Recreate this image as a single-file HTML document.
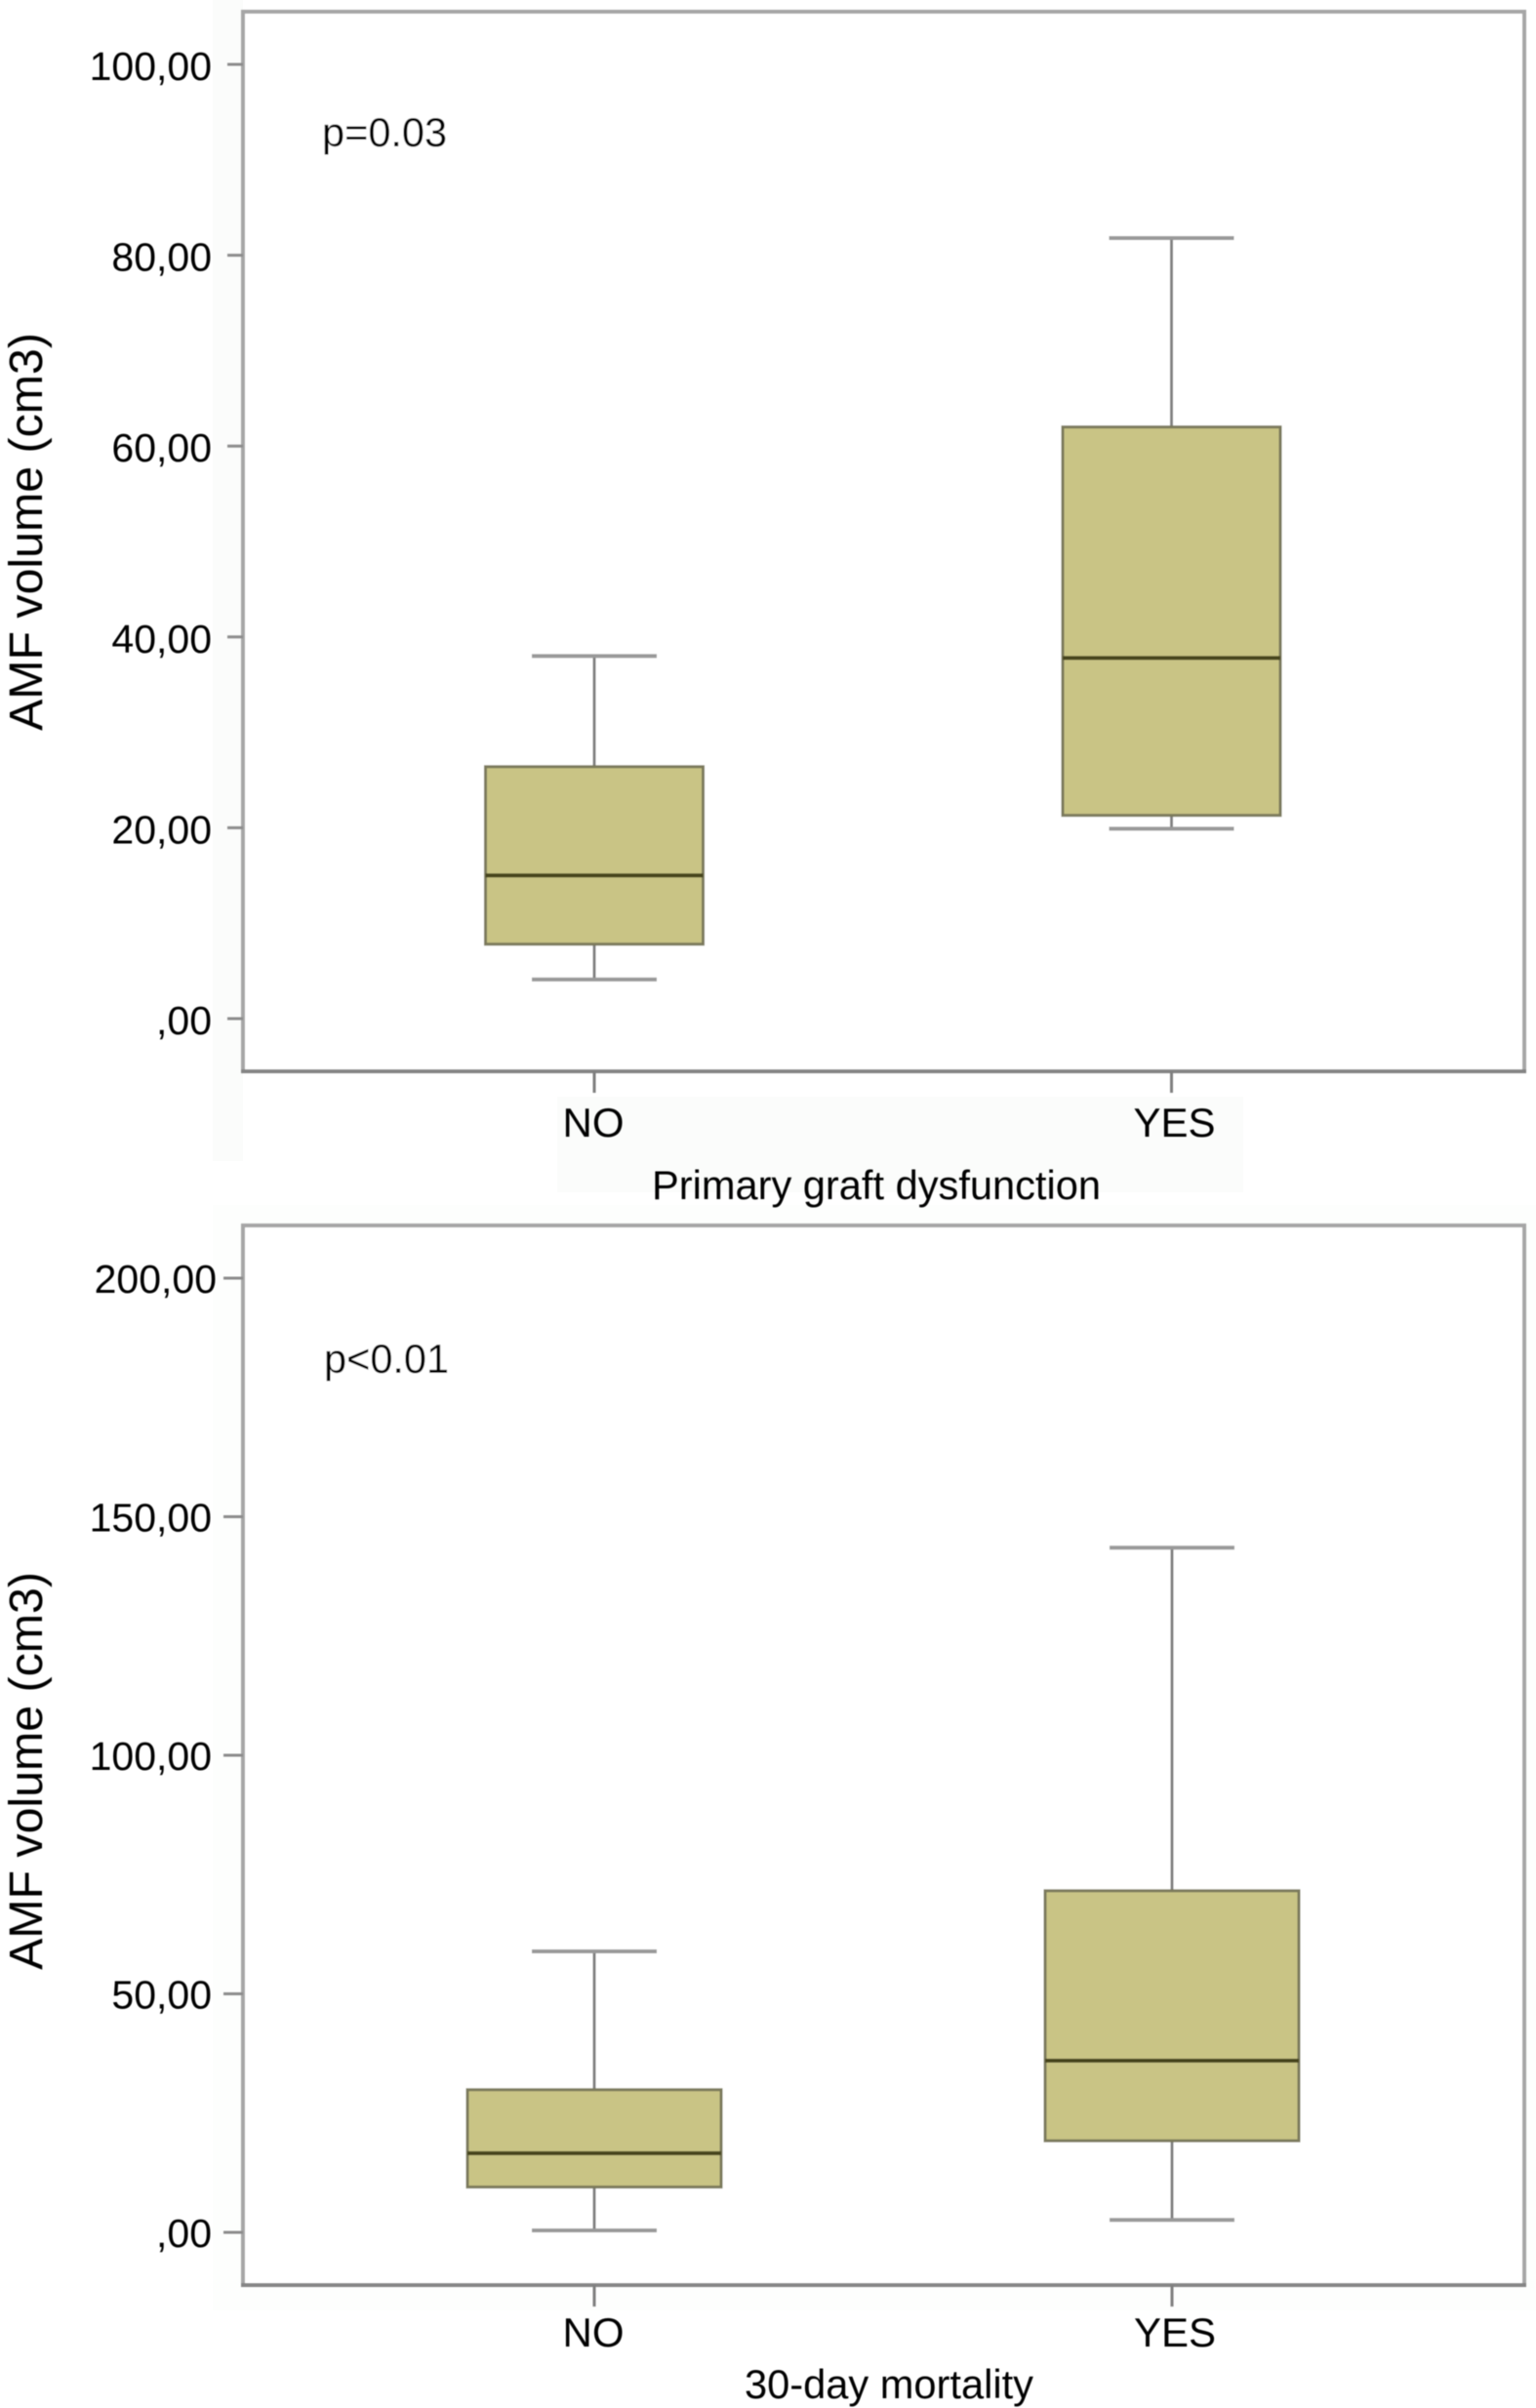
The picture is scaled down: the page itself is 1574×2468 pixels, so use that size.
<!DOCTYPE html>
<html lang="en">
<head>
<meta charset="utf-8">
<title>AMF volume box plots</title>
<style>
html,body{margin:0;padding:0;background:#fff;width:1574px;height:2468px;overflow:hidden}
svg{display:block}
text{font-family:"Liberation Sans",Arial,sans-serif;fill:#050505}
</style>
</head>
<body>
<svg id="figure" xmlns="http://www.w3.org/2000/svg" width="1574" height="2468" viewBox="0 0 1574 2468">
<defs>
<filter id="soft" x="-2%" y="-2%" width="104%" height="104%"><feGaussianBlur stdDeviation="0.55"/></filter>
</defs>
<rect width="1574" height="2468" fill="#ffffff"/>
<rect x="218" y="0" width="31" height="1190" fill="#fbfcfb"/>
<rect x="218" y="1235" width="1356" height="1133" fill="#fdfefd"/>
<rect x="571" y="1124" width="703" height="98" fill="#fbfcfb"/>
<g id="chart-top" filter="url(#soft)"></g>
<g id="chart-bottom" filter="url(#soft)"></g>
</svg>
<script>
// Shared categories
const categories = ['NO', 'YES'];

// Chart 1: Primary graft dysfunction
const pgdTicks = [0, 20, 40, 60, 80, 100];
const pgdTickLabels = [',00', '20,00', '40,00', '60,00', '80,00', '100,00'];
const pgdWhiskerLow = [4.1, 19.9];
const pgdQ1 = [7.8, 21.3];
const pgdMedian = [15.0, 37.8];
const pgdQ3 = [26.4, 62.0];
const pgdWhiskerHigh = [38.0, 81.8];

// Chart 2: 30-day mortality
const mortTicks = [0, 50, 100, 150, 200];
const mortTickLabels = [',00', '50,00', '100,00', '150,00', '200,00'];
const mortWhiskerLow = [0.4, 2.6];
const mortQ1 = [9.5, 19.2];
const mortMedian = [16.6, 36.0];
const mortQ3 = [29.9, 71.6];
const mortWhiskerHigh = [58.9, 143.5];

const SVG_NS = 'http://www.w3.org/2000/svg';

function make(parent, tag, attrs, text) {
  const el = document.createElementNS(SVG_NS, tag);
  for (const k in attrs) el.setAttribute(k, attrs[k]);
  if (text !== undefined) el.textContent = text;
  parent.appendChild(el);
  return el;
}

function line(parent, x1, y1, x2, y2, color, width) {
  return make(parent, 'line', { x1: x1, y1: y1, x2: x2, y2: y2, stroke: color, 'stroke-width': width });
}

function drawChart(cfg) {
  const root = document.getElementById(cfg.id);
  const yScale = v => cfg.y0 + (cfg.y1 - cfg.y0) * (v - cfg.v0) / (cfg.v1 - cfg.v0);
  const xScale = i => cfg.xFirst + i * (cfg.xLast - cfg.xFirst);

  // plot frame
  const frame = make(root, 'rect', { x: 249, y: cfg.top, width: 1313, height: cfg.bottom - cfg.top, fill: '#ffffff', stroke: '#a6a6a6', 'stroke-width': 4 });
  
  
  const baseLine = line(root, 247, cfg.bottom, 1564, cfg.bottom, '#858585', 4);
  
  

  // y ticks
  cfg.ticks.forEach((t, i) => {
    const y = yScale(t);
    const tick = line(root, cfg.tickStart, y, 249, y, '#8c8c8c', 3);
    
    
    const right = i === cfg.ticks.length - 1 ? cfg.topTickRight : 217;
    const lab = make(root, 'text', { x: right, y: y + cfg.tickBaseline, 'text-anchor': 'end', 'font-size': 41 }, cfg.tickLabels[i]);
    
    
  });

  // boxes
  categories.forEach((c, i) => {
    const x = xScale(i);
    const halfBox = cfg.boxWidth / 2;
    const yLow = yScale(cfg.low[i]);
    const yQ1 = yScale(cfg.q1[i]);
    const yMed = yScale(cfg.median[i]);
    const yQ3 = yScale(cfg.q3[i]);
    const yHigh = yScale(cfg.high[i]);

    const stem = line(root, x, yHigh, x, yLow, '#808080', 3);
    
    
    const capHigh = line(root, x - 64, yHigh, x + 64, yHigh, '#999999', 4);
    
    
    const capLow = line(root, x - 64, yLow, x + 64, yLow, '#999999', 4);
    
    

    const box = make(root, 'rect', { x: x - halfBox, y: yQ3, width: cfg.boxWidth, height: yQ1 - yQ3, fill: '#c9c485', stroke: '#7c7a5c', 'stroke-width': 3 });
    
    
    const med = line(root, x - halfBox, yMed, x + halfBox, yMed, '#47451f', 4);
    
    

    const xt = line(root, x, cfg.bottom, x, cfg.bottom + 22, '#7f7f7f', 3);
    
    
    const xl = make(root, 'text', { x: x + (i ? 3 : -1), y: cfg.xLabelY, 'text-anchor': 'middle', 'font-size': 42 }, c);
    
    
  });

  const xTitle = make(root, 'text', { x: cfg.xTitleX, y: cfg.xTitleY, 'text-anchor': 'middle', 'font-size': 41.6 }, cfg.xTitle);
  
  
  const yTitle = make(root, 'text', { x: 0, y: 0, 'text-anchor': 'middle', 'font-size': 48.3, transform: 'translate(43 ' + cfg.yTitleY + ') rotate(-90)' }, 'AMF volume (cm3)');
  
  
  const pv = make(root, 'text', { x: cfg.pX, y: cfg.pY, 'font-size': 41.5 }, cfg.pText);
  
  
}

drawChart({
  id: 'chart-top', top: 12, bottom: 1098, v0: 0, v1: 100, y0: 1044, y1: 66,
  xFirst: 609, xLast: 1200.5, boxWidth: 223, tickStart: 233, topTickRight: 217, tickBaseline: 16,
  ticks: pgdTicks, tickLabels: pgdTickLabels,
  low: pgdWhiskerLow, q1: pgdQ1, median: pgdMedian, q3: pgdQ3, high: pgdWhiskerHigh,
  xLabelY: 1165, xTitle: 'Primary graft dysfunction', xTitleX: 898, xTitleY: 1229, yTitleY: 545,
  pText: 'p=0.03', pX: 330, pY: 150
});

drawChart({
  id: 'chart-bottom', top: 1256, bottom: 2342, v0: 0, v1: 200, y0: 2288, y1: 1310,
  xFirst: 609, xLast: 1201, boxWidth: 260, tickStart: 229, topTickRight: 222, tickBaseline: 15,
  ticks: mortTicks, tickLabels: mortTickLabels,
  low: mortWhiskerLow, q1: mortQ1, median: mortMedian, q3: mortQ3, high: mortWhiskerHigh,
  xLabelY: 2405, xTitle: '30-day mortality', xTitleX: 911, xTitleY: 2458, yTitleY: 1815,
  pText: 'p<0.01', pX: 332, pY: 1407
});
</script>
</body>
</html>
